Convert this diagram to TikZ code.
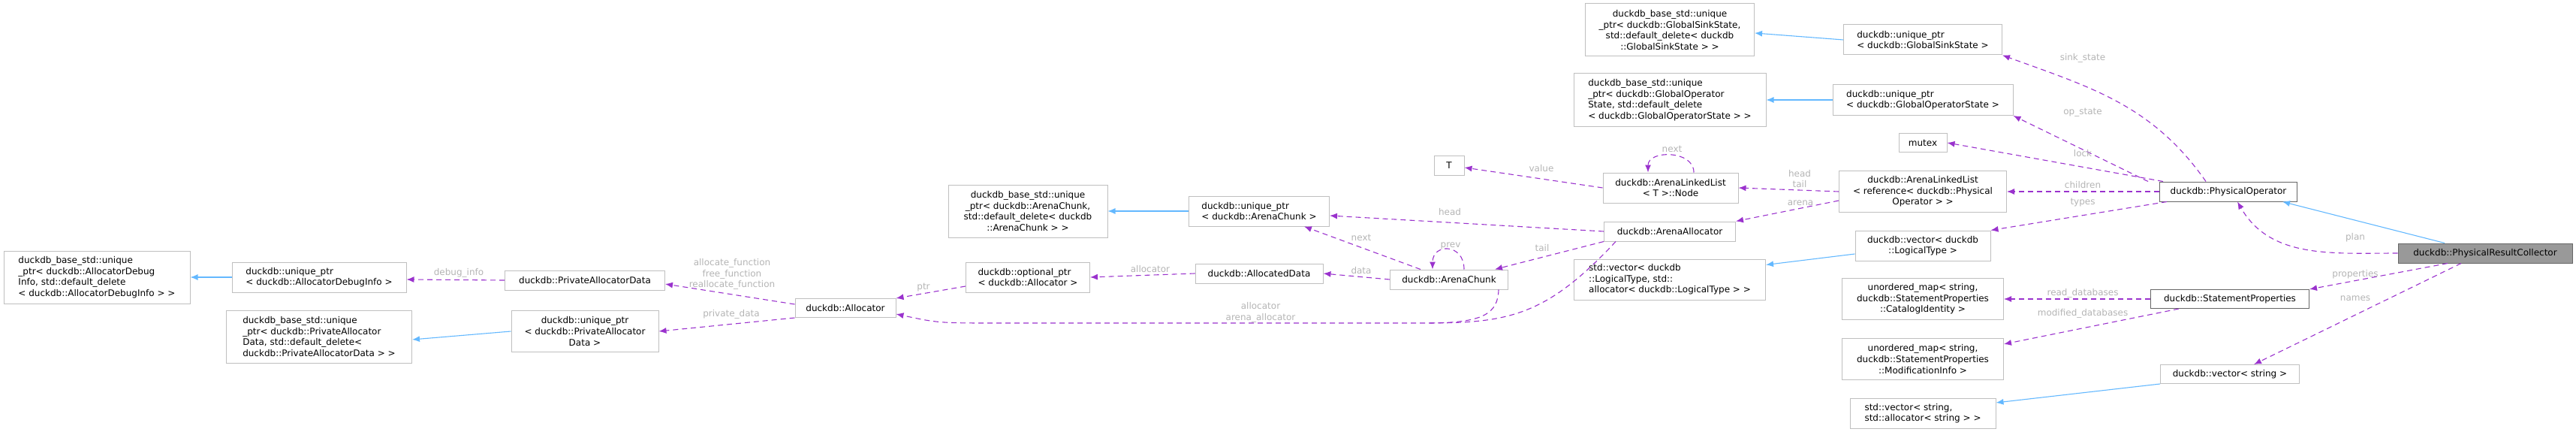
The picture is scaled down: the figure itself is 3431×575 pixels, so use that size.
\documentclass[tikz,border=0pt]{standalone}
\usepackage{fontspec}
\setmainfont{DejaVu Sans}
\usetikzlibrary{arrows.meta,positioning}
\definecolor{edgepurple}{HTML}{9A32CD}
\definecolor{edgeblue}{HTML}{63B8FF}
\definecolor{boxgray}{HTML}{BFBFBF}
\definecolor{lblgray}{HTML}{B4B4B4}

\tikzset{
  cls/.style={draw=boxgray, line width=1pt, fill=white, inner sep=0pt, align=left,
    font=\fontsize{12}{14.6}\selectfont},
  clsdark/.style={cls, draw=black!60},
  lbl/.style={inner sep=0pt, text=lblgray, align=center, font=\fontsize{12}{14.6}\selectfont},
  use/.style={draw=edgepurple, line width=1.1pt, dash pattern=on 7pt off 5pt,
    -{Latex[length=10pt,width=8pt]}},
  inh/.style={draw=edgeblue, line width=1.1pt, -{Latex[length=10pt,width=8pt]}},
}

\begin{document}
\begin{tikzpicture}[x=1pt,y=-1pt]
  \useasboundingbox (0,0) rectangle (3431,575);
  % classes
  \node[cls, minimum width=248, minimum height=70] (bdebug) at (129,369) {duckdb\_base\_std::unique\\\_ptr< duckdb::AllocatorDebug\\Info, std::default\_delete\\< duckdb::AllocatorDebugInfo > >};
  \node[cls, minimum width=232, minimum height=40] (updebug) at (425,369) {duckdb::unique\_ptr\\< duckdb::AllocatorDebugInfo >};
  \node[cls, minimum width=213, minimum height=26] (pad) at (779,373) {duckdb::PrivateAllocatorData};
  \node[cls, minimum width=247, minimum height=70] (bpriv) at (425,448) {duckdb\_base\_std::unique\\\_ptr< duckdb::PrivateAllocator\\Data, std::default\_delete<\\ duckdb::PrivateAllocatorData > >};
  \node[cls, align=center, minimum width=196, minimum height=55] (uppriv) at (779,441) {duckdb::unique\_ptr\\< duckdb::PrivateAllocator\\Data >};
  \node[cls, minimum width=134, minimum height=25] (alloc) at (1126,410) {duckdb::Allocator};
  \node[cls, minimum width=165, minimum height=40] (optptr) at (1369,369) {duckdb::optional\_ptr\\< duckdb::Allocator >};
  \node[cls, align=center, minimum width=212, minimum height=70] (barena) at (1369,281) {duckdb\_base\_std::unique\\\_ptr< duckdb::ArenaChunk,\\ std::default\_delete< duckdb\\::ArenaChunk > >};
  \node[cls, minimum width=187, minimum height=40] (uparena) at (1677,281) {duckdb::unique\_ptr\\< duckdb::ArenaChunk >};
  \node[cls, minimum width=170, minimum height=26] (adata) at (1677,364) {duckdb::AllocatedData};
  \node[cls, minimum width=157, minimum height=26] (achunk) at (1930,372) {duckdb::ArenaChunk};
  \node[cls, minimum width=40, minimum height=26] (tval) at (1930,220) {T};
  \node[cls, align=center, minimum width=180, minimum height=40] (anode) at (2225,250) {duckdb::ArenaLinkedList\\< T >::Node};
  \node[cls, minimum width=175, minimum height=26] (aalloc) at (2224,308) {duckdb::ArenaAllocator};
  \node[cls, minimum width=255, minimum height=54] (stdveclt) at (2224,372) {std::vector< duckdb\\::LogicalType, std::\\allocator< duckdb::LogicalType > >};
  \node[cls, align=center, minimum width=225, minimum height=70] (bgss) at (2224,40) {duckdb\_base\_std::unique\\\_ptr< duckdb::GlobalSinkState,\\ std::default\_delete< duckdb\\::GlobalSinkState > >};
  \node[cls, minimum width=256, minimum height=70] (bgos) at (2224,133) {duckdb\_base\_std::unique\\\_ptr< duckdb::GlobalOperator\\State, std::default\_delete\\< duckdb::GlobalOperatorState > >};
  \node[cls, minimum width=211, minimum height=40] (upgss) at (2561,53) {duckdb::unique\_ptr\\< duckdb::GlobalSinkState >};
  \node[cls, minimum width=240, minimum height=41] (upgos) at (2561,133) {duckdb::unique\_ptr\\< duckdb::GlobalOperatorState >};
  \node[cls, minimum width=64, minimum height=25] (mutex) at (2561,190) {mutex};
  \node[cls, align=center, minimum width=223, minimum height=55] (alist) at (2561,255) {duckdb::ArenaLinkedList\\< reference< duckdb::Physical\\Operator > >};
  \node[cls, align=center, minimum width=180, minimum height=40] (veclt) at (2561,327) {duckdb::vector< duckdb\\::LogicalType >};
  \node[cls, align=center, minimum width=215, minimum height=55] (mapcat) at (2561,398) {unordered\_map< string,\\ duckdb::StatementProperties\\::CatalogIdentity >};
  \node[cls, align=center, minimum width=215, minimum height=55] (mapmod) at (2561,478) {unordered\_map< string,\\ duckdb::StatementProperties\\::ModificationInfo >};
  \node[cls, minimum width=194, minimum height=40] (stdvecstr) at (2561,550) {std::vector< string,\\ std::allocator< string > >};
  \node[clsdark, minimum width=183, minimum height=26] (physop) at (2968,255) {duckdb::PhysicalOperator};
  \node[clsdark, minimum width=211, minimum height=25] (stprop) at (2970,398) {duckdb::StatementProperties};
  \node[cls, minimum width=185, minimum height=25] (vecstr) at (2970,498) {duckdb::vector< string >};
  \node[clsdark, fill=black!40, minimum width=232, minimum height=26] (prc) at (3310,337) {duckdb::PhysicalResultCollector};

  % inheritance
  \draw[inh] (updebug.west) -- (bdebug.east);
  \draw[inh] (uppriv.west) -- ([yshift=-4pt]bpriv.east);
  \draw[inh] (uparena.west) -- (barena.east);
  \draw[inh] (upgss.west) -- ([yshift=-4pt]bgss.east);
  \draw[inh] (upgos.west) -- (bgos.east);
  \draw[inh] ([yshift=-11pt]veclt.west) -- ([yshift=-8pt]stdveclt.north east);
  \draw[inh] (vecstr.south west) -- ([yshift=14pt]stdvecstr.east);
  \draw[inh] ([xshift=-54pt]prc.north) -- ([xshift=-20pt]physop.south east);

  % members
  \draw[use] (prc.west) to[out=180,in=-60] ([xshift=12pt]physop.south);
  \draw[use] ([xshift=-50pt]prc.south) -- (stprop.north east);
  \draw[use] ([xshift=-32pt]prc.south) -- ([xshift=32pt]vecstr.north);
  \draw[use] (stprop.west) -- (mapcat.east);
  \draw[use] ([xshift=38pt]stprop.south west) -- ([yshift=-8pt]mapmod.north east);
  \draw[use] ([xshift=-30pt]physop.north) to[out=125,in=-20] (upgss.south east);
  \draw[use] ([xshift=-15pt]physop.north west) -- (upgos.south east);
  \draw[use] ([xshift=5pt]physop.north west) -- (mutex.east);
  \draw[use] (physop.west) -- (alist.east);
  \draw[use] ([xshift=10pt]physop.south west) -- (veclt.north east);
  \draw[use] (alist.west) -- (anode.east);
  \draw[use] ([yshift=-12pt]alist.west) -- (aalloc.north east);
  \draw[use] (anode.west) -- ([yshift=-3pt]tval.east);
  \draw[use] ([xshift=31pt]anode.north) .. controls +(0,-30) and +(0,-30) .. ([xshift=-30pt]anode.north);
  \draw[use] (aalloc.west) -- ([yshift=-6pt]uparena.east);
  \draw[use] (aalloc.south west) -- ([xshift=-18pt]achunk.north east);
  \draw[use] ([xshift=16pt]aalloc.south west) .. controls (2060,420) and (2010,430) .. (1900,430)
    -- (1330,430) .. controls (1250,430) .. ([yshift=-8pt]alloc.east);
  \draw[use, -] ([xshift=-13pt]achunk.south east) .. controls (1995,418) and (1975,430) .. (1900,430);
  \draw[use] ([xshift=-38pt]achunk.north) -- ([xshift=60pt]uparena.south);
  \draw[use] ([xshift=20pt]achunk.north) .. controls +(0,-35) and +(0,-35) .. ([xshift=-22pt]achunk.north);
  \draw[use] (achunk.west) -- (adata.east);
  \draw[use] (adata.west) -- (optptr.east);
  \draw[use] ([yshift=-12pt]optptr.west) -- (alloc.north east);
  \draw[use] ([yshift=5pt]alloc.west) -- ([yshift=-5pt]pad.east);
  \draw[use] (alloc.south west) -- (uppriv.east);
  \draw[use] (pad.west) -- ([yshift=-3pt]updebug.east);

  % edge labels
  \node[lbl] (l1) at (611,363) {debug\_info};
  \node[lbl] (l2) at (975,365) {allocate\_function\\free\_function\\reallocate\_function};
  \node[lbl] (l3) at (974,418) {private\_data};
  \node[lbl] (l4) at (1230,383) {ptr};
  \node[lbl] (l5) at (1532,358) {allocator};
  \node[lbl] (l6) at (1813,360) {data};
  \node[lbl] (l7) at (1813,316) {next};
  \node[lbl] (l8) at (1932,327) {prev};
  \node[lbl] (l9) at (1931,282) {head};
  \node[lbl] (l10) at (2054,330) {tail};
  \node[lbl] (l11) at (1679,416) {allocator\\arena\_allocator};
  \node[lbl] (l12) at (2053,224) {value};
  \node[lbl] (l13) at (2227,198) {next};
  \node[lbl] (l14) at (2397,238) {head\\tail};
  \node[lbl] (l15) at (2398,270) {arena};
  \node[lbl] (l16) at (2774,77) {sink\_state};
  \node[lbl] (l17) at (2774,150) {op\_state};
  \node[lbl] (l18) at (2774,204) {lock};
  \node[lbl] (l19) at (2774,246) {children};
  \node[lbl] (l20) at (2774,270) {types};
  \node[lbl] (l21) at (2774,390) {read\_databases};
  \node[lbl] (l22) at (2774,417) {modified\_databases};
  \node[lbl] (l23) at (3137,316) {plan};
  \node[lbl] (l24) at (3137,365) {properties};
  \node[lbl] (l25) at (3137,397) {names};
\end{tikzpicture}
\end{document}
